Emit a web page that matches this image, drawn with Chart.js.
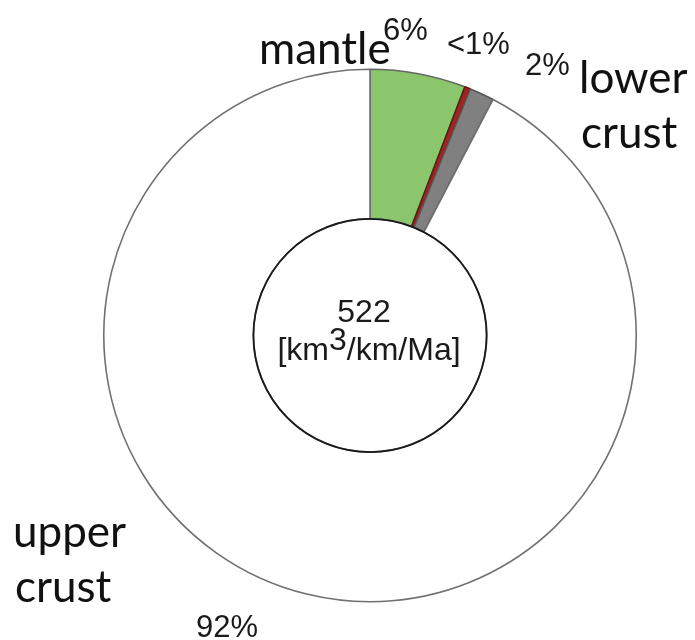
<!DOCTYPE html>
<html>
<head>
<meta charset="utf-8">
<script src="https://cdn.jsdelivr.net/npm/chart.js@4/dist/chart.umd.min.js"></script>
<style>
  html, body { margin: 0; padding: 0; background: #ffffff; }
  #wrap { width: 695px; height: 640px; position: relative; }
</style>
</head>
<body>
<div id="wrap"><canvas id="c" width="695" height="640"></canvas></div>
<script>
// ---- data ----
const categories = ['mantle', 'melt', 'lower crust', 'upper crust'];
const values = [5.8, 0.35, 1.5, 92.35];
const percentLabels = ['6%', '<1%', '2%', '92%'];
const sliceColors = ['#8cc66c', '#a02424', '#808080', '#ffffff'];
const centerValue = '522';
const centerUnitParts = ['[km', '3', '/km/Ma]'];

// ---- text layout (positions of annotations) ----
const nameFont = '44px Lato, "Open Sans", sans-serif';
const pctFont = '31px "Liberation Sans", Arial, sans-serif';
const centerFont = '32px "Liberation Sans", Arial, sans-serif';
const nameTexts = [
  { text: 'mantle', x: 259, y: 64 },
  { text: 'lower', x: 579, y: 93 },
  { text: 'crust', x: 581, y: 148 },
  { text: 'upper', x: 13, y: 547 },
  { text: 'crust', x: 15, y: 602 }
];
const pctPos = [
  { x: 383, y: 40 },
  { x: 447, y: 54 },
  { x: 525, y: 75 },
  { x: 196, y: 637 }
];

const annotate = {
  id: 'annotate',
  afterDatasetsDraw(chart) {
    const ctx = chart.ctx;
    const arc = chart.getDatasetMeta(0).data[0];
    ctx.save();
    // inner circle outline
    ctx.beginPath();
    ctx.arc(arc.x, arc.y, arc.innerRadius, 0, Math.PI * 2);
    ctx.strokeStyle = '#1a1a1a';
    ctx.lineWidth = 1.8;
    ctx.stroke();

    ctx.fillStyle = '#111111';
    ctx.textBaseline = 'alphabetic';
    ctx.textAlign = 'left';
    // category names
    ctx.font = nameFont;
    nameTexts.forEach(t => ctx.fillText(t.text, t.x, t.y));
    // percentages
    ctx.font = pctFont;
    ctx.fillStyle = '#1a1a1a';
    percentLabels.forEach((p, i) => ctx.fillText(p, pctPos[i].x, pctPos[i].y));

    // center text
    ctx.textAlign = 'center';
    ctx.font = centerFont;
    ctx.fillText(centerValue, arc.x - 6, arc.y - 14);
    ctx.textAlign = 'left';
    const w0 = ctx.measureText(centerUnitParts[0]).width;
    const w1 = ctx.measureText(centerUnitParts[1]).width;
    const w2 = ctx.measureText(centerUnitParts[2]).width;
    let x = arc.x - 1 - (w0 + w1 + w2) / 2;
    const by = arc.y + 24;
    ctx.fillText(centerUnitParts[0], x, by);
    x += w0;
    ctx.fillText(centerUnitParts[1], x, by - 10);
    x += w1;
    ctx.fillText(centerUnitParts[2], x, by);
    ctx.restore();
  }
};

new Chart(document.getElementById('c'), {
  type: 'doughnut',
  data: {
    labels: categories,
    datasets: [{
      data: values,
      backgroundColor: sliceColors,
      borderColor: ['#666666', '#6a1515', '#555555', '#707070'],
      borderWidth: 1.6
    }]
  },
  options: {
    responsive: false,
    animation: false,
    cutout: '43.8%',
    rotation: 0,
    layout: { padding: { top: 68, left: 103, right: 58, bottom: 37 } },
    plugins: {
      legend: { display: false },
      tooltip: { enabled: false }
    }
  },
  plugins: [annotate]
});
</script>
</body>
</html>
